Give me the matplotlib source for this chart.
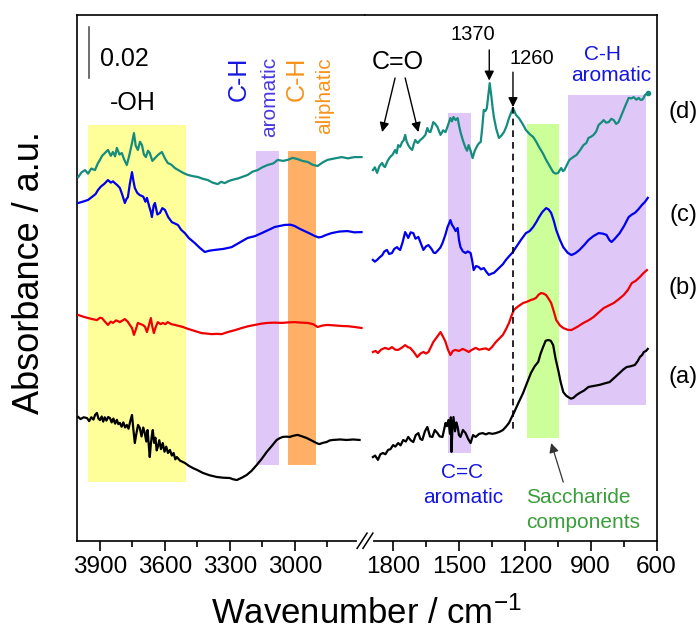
import matplotlib
matplotlib.use('Agg')
import matplotlib.pyplot as plt
import numpy as np

plt.rcParams['font.family'] = ['Liberation Sans', 'DejaVu Sans']
plt.rcParams['mathtext.default'] = 'regular'

# spectra: (wavenumber cm-1, absorbance x 1e-3, stacked offsets included)
# (d) teal, (c) blue, (b) red, (a) black -- high wavenumber part
d_high = [(4000, 142.7), (3985, 144.5), (3969, 145.4), (3955, 144.0), (3940, 146.0), (3923, 145.4),
          (3910, 148.0), (3900, 149.4), (3890, 151.0), (3877, 152.1), (3863, 153.3), (3850, 151.0),
          (3840, 152.5), (3830, 150.8), (3822, 154.1), (3810, 151.5), (3799, 152.1), (3788, 149.5),
          (3776, 147.4), (3768, 150.0), (3762, 152.1), (3752, 156.0), (3743, 159.9), (3735, 155.0),
          (3725, 153.3), (3715, 156.5), (3706, 155.2), (3697, 151.5), (3688, 150.5), (3678, 153.0),
          (3670, 152.1), (3658, 149.0), (3646, 150.1), (3630, 151.5), (3614, 152.5), (3600, 150.0),
          (3587, 148.2), (3570, 147.5), (3554, 146.2), (3540, 145.5), (3522, 144.6), (3508, 144.0),
          (3494, 143.5), (3470, 143.0), (3448, 142.7), (3425, 142.0), (3402, 141.5), (3380, 140.5),
          (3356, 139.9), (3340, 140.8), (3324, 140.3), (3308, 141.0), (3292, 141.5), (3260, 142.2),
          (3218, 143.5), (3195, 144.8), (3172, 145.4), (3150, 146.5), (3126, 147.4), (3100, 148.0),
          (3079, 149.4), (3055, 149.0), (3033, 149.4), (3010, 150.2), (2987, 149.7), (2965, 149.0),
          (2941, 148.6), (2918, 147.5), (2895, 147.0), (2870, 148.5), (2849, 149.4), (2815, 150.0),
          (2784, 150.5), (2755, 150.0), (2724, 150.5), (2692, 150.5)]
c_high = [(4000, 132.5), (3980, 133.0), (3955, 133.7), (3935, 135.0), (3920, 136.0), (3909, 137.6),
          (3895, 139.0), (3880, 140.0), (3863, 141.5), (3850, 140.5), (3840, 141.0), (3831, 140.3),
          (3820, 139.5), (3808, 138.4), (3798, 136.0), (3785, 132.5), (3778, 134.0), (3771, 134.8),
          (3762, 140.0), (3752, 144.6), (3745, 141.0), (3739, 138.4), (3728, 136.5), (3716, 135.6),
          (3700, 135.0), (3690, 133.0), (3683, 134.5), (3672, 131.0), (3665, 129.0), (3660, 127.0),
          (3652, 131.5), (3646, 132.5), (3635, 128.0), (3623, 128.6), (3612, 130.5), (3600, 129.8),
          (3585, 127.0), (3568, 125.0), (3555, 124.5), (3540, 123.9), (3525, 122.0), (3508, 120.7),
          (3490, 118.8), (3462, 116.8), (3440, 115.0), (3416, 113.3), (3395, 113.8), (3370, 114.1),
          (3330, 114.5), (3292, 115.2), (3255, 117.0), (3218, 118.8), (3185, 119.5), (3153, 120.7),
          (3120, 122.0), (3093, 123.1), (3070, 123.5), (3047, 123.9), (3020, 124.0), (3001, 123.5),
          (2980, 122.5), (2955, 121.5), (2930, 120.5), (2909, 119.6), (2890, 119.0), (2877, 119.2),
          (2855, 120.0), (2830, 120.7), (2795, 121.3), (2757, 121.5), (2725, 121.0), (2692, 121.1)]
b_high = [(4000, 88.6), (3980, 88.0), (3955, 87.4), (3935, 87.0), (3914, 86.6), (3900, 87.5),
          (3891, 87.4), (3877, 86.0), (3863, 84.7), (3850, 86.0), (3840, 85.5), (3825, 86.5),
          (3808, 85.8), (3795, 86.5), (3785, 87.0), (3772, 86.0), (3762, 84.7), (3752, 83.5),
          (3743, 80.8), (3734, 83.0), (3725, 85.5), (3712, 85.0), (3702, 84.7), (3692, 84.0),
          (3683, 81.9), (3674, 84.5), (3665, 87.4), (3658, 84.0), (3651, 81.5), (3642, 84.0),
          (3633, 85.8), (3620, 85.0), (3610, 85.5), (3598, 85.0), (3587, 85.8), (3570, 85.0),
          (3554, 84.7), (3535, 84.3), (3517, 83.9), (3495, 83.2), (3476, 82.7), (3450, 82.0),
          (3430, 81.5), (3405, 81.3), (3384, 81.1), (3360, 81.2), (3338, 81.1), (3310, 81.9),
          (3275, 82.7), (3245, 83.5), (3215, 84.2), (3185, 84.7), (3155, 85.2), (3126, 85.5),
          (3095, 85.6), (3061, 85.5), (3030, 85.7), (3001, 85.8), (2970, 85.6), (2941, 85.5),
          (2915, 85.0), (2895, 83.9), (2870, 84.5), (2849, 84.7), (2815, 84.5), (2784, 84.3),
          (2755, 84.2), (2724, 83.9), (2692, 83.5)]
a_high = [(4000, 48.6), (3990, 47.8), (3975, 48.5), (3960, 48.2), (3950, 47.0), (3940, 48.5),
          (3930, 47.6), (3922, 49.5), (3914, 50.2), (3907, 48.0), (3900, 47.4), (3892, 48.8),
          (3885, 46.8), (3878, 48.5), (3870, 47.2), (3862, 48.6), (3854, 48.2), (3846, 46.5),
          (3838, 48.0), (3830, 46.0), (3822, 47.5), (3815, 45.8), (3808, 46.3), (3800, 44.8),
          (3792, 46.5), (3784, 44.5), (3776, 45.5), (3768, 44.0), (3760, 47.0), (3752, 49.4),
          (3746, 44.0), (3739, 38.4), (3732, 42.0), (3724, 45.5), (3716, 44.3), (3708, 41.0),
          (3700, 44.5), (3693, 42.3), (3686, 39.0), (3680, 43.5), (3674, 37.0), (3670, 32.9),
          (3665, 38.0), (3660, 41.5), (3656, 43.5), (3650, 38.5), (3644, 40.5), (3638, 35.5),
          (3633, 36.8), (3626, 39.5), (3618, 36.0), (3610, 38.4), (3602, 35.0), (3594, 37.0),
          (3586, 34.5), (3577, 35.7), (3568, 33.5), (3560, 34.5), (3552, 32.0), (3545, 32.9),
          (3530, 31.5), (3508, 30.6), (3490, 29.5), (3471, 28.6), (3450, 27.8), (3425, 26.7),
          (3395, 25.8), (3361, 25.1), (3330, 24.8), (3301, 24.7), (3285, 24.2), (3268, 23.9),
          (3245, 24.8), (3222, 25.9), (3200, 27.5), (3176, 29.8), (3153, 32.2), (3130, 34.9),
          (3107, 37.2), (3084, 39.6), (3070, 40.3), (3056, 40.8), (3040, 40.9), (3024, 40.8),
          (3005, 41.3), (2987, 41.6), (2966, 41.0), (2946, 40.4), (2925, 39.5), (2909, 38.8),
          (2895, 38.2), (2886, 38.0), (2870, 38.5), (2853, 38.8), (2840, 39.4), (2826, 39.6),
          (2790, 39.8), (2761, 39.6), (2730, 39.8), (2701, 39.6)]

# fingerprint part
d_low = [(1892, 145.4), (1883, 146.5), (1873, 144.3), (1862, 147.0), (1850, 148.2), (1843, 147.0),
         (1837, 146.6), (1825, 149.0), (1814, 150.5), (1802, 151.5), (1791, 153.3), (1784, 152.0),
         (1777, 155.2), (1768, 154.5), (1759, 156.4), (1752, 157.0), (1745, 159.2), (1738, 156.5),
         (1731, 155.2), (1722, 154.0), (1713, 153.3), (1706, 155.5), (1699, 157.2), (1688, 156.0),
         (1676, 157.2), (1665, 158.0), (1653, 159.2), (1644, 161.9), (1637, 160.5), (1630, 160.3),
         (1624, 162.0), (1617, 164.2), (1608, 163.5), (1598, 162.3), (1590, 160.5), (1584, 159.2),
         (1572, 161.0), (1561, 160.3), (1550, 163.0), (1539, 165.8), (1532, 164.5), (1525, 166.2),
         (1515, 165.0), (1506, 165.8), (1500, 163.0), (1493, 160.3), (1482, 157.0), (1470, 154.1),
         (1463, 153.0), (1456, 155.2), (1447, 153.0), (1438, 150.1), (1428, 153.0), (1415, 155.2),
         (1408, 156.0), (1401, 156.4), (1394, 162.0), (1387, 169.0), (1380, 168.5), (1373, 169.7),
         (1366, 175.0), (1360, 179.5), (1352, 174.0), (1347, 170.0), (1341, 166.2), (1330, 161.5),
         (1318, 158.0), (1306, 159.0), (1295, 160.3), (1284, 162.5), (1272, 165.8), (1262, 168.0),
         (1254, 169.7), (1240, 167.0), (1227, 165.8), (1210, 163.5), (1195, 161.1), (1178, 159.5),
         (1162, 158.4), (1148, 156.5), (1135, 154.4), (1118, 152.0), (1103, 149.4), (1087, 147.0),
         (1071, 144.6), (1060, 144.0), (1048, 144.3), (1040, 145.5), (1034, 146.2), (1027, 145.0),
         (1020, 145.4), (1008, 147.5), (997, 149.4), (980, 150.5), (965, 151.3), (950, 153.0),
         (933, 155.2), (920, 156.0), (910, 158.0), (898, 158.5), (887, 159.2), (875, 160.5),
         (864, 163.1), (852, 164.0), (841, 165.0), (830, 164.0), (818, 164.2), (806, 165.5),
         (795, 165.0), (784, 163.5), (773, 164.2), (762, 166.5), (750, 169.0), (738, 171.5),
         (727, 173.7), (715, 173.5), (704, 174.0), (692, 173.0), (681, 173.7), (674, 173.0),
         (667, 172.9), (660, 173.5), (653, 174.8), (640, 175.6)]
c_low = [(1892, 110.2), (1883, 109.5), (1873, 110.2), (1860, 111.3), (1850, 112.0), (1840, 113.5),
         (1828, 114.1), (1818, 112.5), (1805, 112.9), (1795, 114.5), (1782, 115.2), (1775, 114.5),
         (1768, 114.1), (1757, 117.0), (1745, 121.1), (1738, 120.0), (1731, 118.8), (1720, 121.0),
         (1708, 120.7), (1698, 118.5), (1685, 119.2), (1675, 117.0), (1662, 114.1), (1650, 115.5),
         (1639, 116.0), (1625, 114.5), (1615, 113.0), (1607, 112.9), (1595, 114.0), (1585, 115.0),
         (1575, 116.8), (1562, 120.0), (1552, 123.1), (1545, 124.5), (1539, 125.8), (1532, 124.0),
         (1525, 123.1), (1515, 121.5), (1506, 122.7), (1500, 118.0), (1493, 115.2), (1482, 113.5),
         (1470, 112.9), (1460, 113.5), (1447, 112.9), (1440, 110.0), (1433, 106.2), (1422, 107.8),
         (1410, 107.4), (1400, 106.5), (1387, 107.0), (1375, 105.5), (1364, 104.3), (1352, 104.8),
         (1341, 105.1), (1330, 106.0), (1318, 107.0), (1300, 108.5), (1286, 110.2), (1270, 111.8),
         (1254, 113.3), (1240, 115.2), (1218, 118.0), (1195, 120.7), (1178, 121.5), (1162, 123.1),
         (1148, 125.0), (1135, 127.0), (1120, 129.0), (1103, 130.5), (1092, 130.0), (1080, 128.6),
         (1068, 125.5), (1057, 121.9), (1040, 118.0), (1025, 115.2), (1005, 113.0), (988, 112.1),
         (970, 112.8), (951, 114.1), (930, 116.0), (910, 118.0), (888, 119.5), (864, 120.7),
         (845, 120.5), (828, 120.0), (815, 118.0), (805, 117.2), (790, 118.5), (768, 120.7),
         (748, 123.5), (727, 127.0), (712, 128.0), (699, 128.6), (683, 130.0), (667, 131.7),
         (652, 133.0), (640, 134.5)]
b_low = [(1892, 74.1), (1880, 74.5), (1869, 73.7), (1855, 75.0), (1837, 75.7), (1820, 75.2),
         (1805, 76.0), (1790, 75.0), (1777, 74.9), (1760, 75.8), (1745, 76.8), (1733, 76.0),
         (1722, 75.7), (1705, 74.0), (1690, 72.1), (1675, 73.5), (1662, 74.1), (1650, 73.5),
         (1639, 74.1), (1628, 76.0), (1617, 78.0), (1600, 80.0), (1584, 81.9), (1572, 80.0),
         (1561, 78.0), (1550, 75.0), (1539, 72.9), (1528, 74.5), (1516, 74.9), (1500, 74.5),
         (1483, 75.3), (1470, 74.8), (1456, 74.1), (1440, 75.0), (1424, 75.7), (1408, 75.0),
         (1392, 75.3), (1378, 75.5), (1364, 74.9), (1350, 76.0), (1332, 78.0), (1315, 79.5),
         (1300, 80.8), (1286, 83.0), (1272, 85.5), (1262, 88.0), (1250, 90.6), (1230, 92.0),
         (1208, 93.3), (1190, 93.8), (1172, 94.5), (1160, 94.8), (1149, 95.3), (1138, 96.5),
         (1126, 97.2), (1115, 97.0), (1103, 96.4), (1092, 95.0), (1080, 93.3), (1068, 90.0),
         (1057, 86.6), (1040, 84.5), (1025, 83.5), (1005, 82.8), (988, 82.7), (960, 84.0),
         (933, 85.5), (910, 86.5), (887, 87.8), (865, 89.5), (841, 91.3), (818, 92.3),
         (795, 93.3), (772, 94.8), (750, 96.4), (730, 98.5), (713, 101.1), (695, 102.0),
         (676, 103.5), (660, 105.0), (644, 106.2)]
a_low = [(1892, 32.9), (1882, 33.5), (1869, 31.8), (1858, 34.0), (1846, 34.5), (1835, 34.0),
         (1823, 35.7), (1812, 36.0), (1800, 37.6), (1790, 37.0), (1777, 38.4), (1766, 37.5),
         (1754, 39.6), (1742, 39.0), (1731, 40.8), (1720, 39.5), (1708, 38.8), (1697, 41.5),
         (1685, 42.3), (1676, 40.0), (1667, 39.6), (1655, 43.0), (1644, 44.7), (1632, 41.0),
         (1621, 40.8), (1610, 43.5), (1598, 42.3), (1588, 41.0), (1575, 40.8), (1567, 44.0),
         (1561, 46.3), (1555, 45.0), (1548, 47.4), (1541, 42.0), (1537, 48.5), (1534, 34.9),
         (1530, 44.0), (1525, 48.6), (1518, 43.0), (1512, 46.5), (1506, 44.7), (1500, 41.5),
         (1493, 40.8), (1482, 43.5), (1470, 42.3), (1458, 40.0), (1447, 38.4), (1436, 41.5),
         (1424, 40.8), (1408, 42.0), (1392, 42.3), (1378, 41.8), (1364, 42.3), (1348, 42.0),
         (1332, 42.3), (1315, 42.8), (1300, 43.5), (1286, 44.8), (1272, 46.3), (1260, 48.5),
         (1250, 50.2), (1230, 54.0), (1208, 58.0), (1190, 62.0), (1172, 65.9), (1155, 68.5),
         (1139, 70.2), (1128, 73.5), (1117, 76.0), (1105, 78.5), (1094, 78.8), (1082, 78.5),
         (1071, 76.8), (1060, 71.5), (1048, 67.0), (1036, 62.0), (1025, 58.4), (1012, 57.0),
         (1002, 56.4), (990, 55.8), (979, 56.1), (965, 57.2), (951, 58.0), (930, 59.0),
         (910, 60.4), (885, 60.8), (860, 61.2), (836, 61.8), (814, 62.3), (792, 64.0),
         (768, 65.9), (752, 67.2), (736, 68.2), (718, 68.5), (699, 69.0), (686, 70.5),
         (676, 72.1), (665, 73.0), (658, 74.1), (648, 74.5), (640, 75.3)]

# shaded assignment bands: (wn from, wn to, absorbance bottom, absorbance top)
bands_high = [(3955, 3504, 23.1, 163.1), (3181, 3075, 29.8, 152.9), (3033, 2904, 29.8, 152.9)]
bands_low = [(1552, 1447, 34.5, 167.8), (1190, 1043, 40.4, 163.5), (1002, 649, 53.3, 174.8)]
band_colors_high = ['#FFFF99', '#DFC8F8', '#FFB066']
band_colors_low = ['#DFC8F8', '#CCFF99', '#DFC8F8']

curve_colors = {'a': 'black', 'b': '#F00000', 'c': '#0000EE', 'd': '#148C7E'}
labels = ['(d)', '(c)', '(b)', '(a)']
label_y = [168.2, 127.8, 99.2, 64.3]

fig = plt.figure(figsize=(6.99, 6.31), dpi=100)
ax1 = fig.add_axes([77/699, 90/631, 288/699, 526/631])
ax2 = fig.add_axes([365/699, 90/631, 292/699, 526/631])

for ax, bands, bcols in [(ax1, bands_high, band_colors_high), (ax2, bands_low, band_colors_low)]:
    for (w0, w1, y0, y1), col in zip(bands, bcols):
        ax.fill_between([w0, w1], y0, y1, color=col, lw=0, zorder=0)

for key, hi, lo in [('d', d_high, d_low), ('c', c_high, c_low), ('b', b_high, b_low), ('a', a_high, a_low)]:
    hi = np.array(hi)
    lo = np.array(lo)
    ax1.plot(hi[:, 0], hi[:, 1], color=curve_colors[key], lw=1.6, zorder=3)
    ax2.plot(lo[:, 0], lo[:, 1], color=curve_colors[key], lw=1.6, zorder=3)
ax2.plot([d_low[-1][0]], [d_low[-1][1]], 'o', color=curve_colors['d'], ms=3, zorder=3)

for ax in (ax1, ax2):
    ax.set_ylim(0, 206.2)
    ax.set_yticks([])
    ax.tick_params(axis='x', which='major', direction='out', length=7, width=1.2,
                   labelsize=17.5, pad=4)
    ax.tick_params(axis='x', which='minor', direction='out', length=4, width=1.2)
    for s in ax.spines.values():
        s.set_linewidth(1.2)

ax1.set_xlim(4006, 2676)
ax1.set_xticks([3900, 3600, 3300, 3000])
ax1.set_xticks([3750, 3450, 3150, 2850], minor=True)
ax1.spines['right'].set_visible(False)

ax2.set_xlim(1928, 598)
ax2.set_xticks([1800, 1500, 1200, 900, 600])
ax2.set_xticks([1650, 1350, 1050, 750], minor=True)
ax2.spines['left'].set_visible(False)

# axis break marks
ax2.plot([-0.021, 0.021], [0.0, 0.0], color='white', lw=3, transform=ax2.transAxes,
         clip_on=False, zorder=10)
for dx in (-0.027, -0.007):
    ax2.plot([dx, dx + 0.034], [-0.014, 0.015], color='black', lw=1.1,
             transform=ax2.transAxes, clip_on=False, zorder=11)

# scale bar
ax1.plot([3951, 3951], [181.5, 201.5], color='#555555', lw=1.2)
ax1.text(3900, 189, '0.02', fontsize=18, ha='left', va='center')

# high wavenumber annotations
ax1.text(3748, 171.7, '-OH', fontsize=18, ha='center', va='center')
ax1.text(3259, 189.7, 'C-H', fontsize=18, color='#1515E0', rotation=90, ha='center', va='top')
ax1.text(3116, 189.7, 'aromatic', fontsize=15, color='#4B3BE0', rotation=90, ha='center', va='top')
ax1.text(2992, 189.7, 'C-H', fontsize=18, color='#F7941D', rotation=90, ha='center', va='top')
ax1.text(2863, 189.7, 'aliphatic', fontsize=15, color='#F7941D', rotation=90, ha='center', va='top')

# fingerprint annotations
arrow_kw = dict(arrowstyle='-|>', color='black', lw=1.0, mutation_scale=14, shrinkA=0, shrinkB=0)
ax2.text(1777, 187.8, 'C=O', fontsize=18, ha='center', va='center')
ax2.annotate('', xy=(1850, 160.3), xytext=(1791, 181.5), arrowprops=arrow_kw)
ax2.annotate('', xy=(1685, 160.3), xytext=(1745, 181.5), arrowprops=arrow_kw)
ax2.text(1438, 198.4, '1370', fontsize=14.5, ha='center', va='center')
ax2.annotate('', xy=(1362, 180.5), xytext=(1362, 192.5), arrowprops=arrow_kw)
ax2.text(1167, 189, '1260', fontsize=14.5, ha='center', va='center')
ax2.annotate('', xy=(1254, 170.1), xytext=(1254, 183.8), arrowprops=arrow_kw)
ax2.plot([1254, 1254], [170.1, 42.7], color='black', lw=1.2, ls=(0, (4, 3)), zorder=4)
ax2.text(846, 190.9, 'C-H', fontsize=15, color='#1515E0', ha='center', va='center')
ax2.text(805, 182.3, 'aromatic', fontsize=15, color='#1515E0', ha='center', va='center')
ax2.text(1488, 27.0, 'C=C', fontsize=15, color='#1515E0', ha='center', va='center')
ax2.text(1479, 16.9, 'aromatic', fontsize=15, color='#1515E0', ha='center', va='center')
ax2.text(956, 16.9, 'Saccharide', fontsize=15, color='#3A9E3A', ha='center', va='center')
ax2.text(933, 7.4, 'components', fontsize=15, color='#3A9E3A', ha='center', va='center')
ax2.annotate('', xy=(1080, 38.4), xytext=(1025, 23.1),
             arrowprops=dict(arrowstyle='-|>', color='#333333', lw=0.9, mutation_scale=14,
                             shrinkA=0, shrinkB=0))

for lab, y in zip(labels, label_y):
    ax2.text(479, y, lab, fontsize=17, ha='center', va='center', clip_on=False)

fig.text(366/699, 7/631, 'Wavenumber / cm$^{-1}$', fontsize=25, ha='center', va='baseline')
fig.text(30/699, 1 - 273/631, 'Absorbance / a.u.', fontsize=26, rotation=90,
         ha='center', va='center')

fig.savefig('out.png', dpi=100)
